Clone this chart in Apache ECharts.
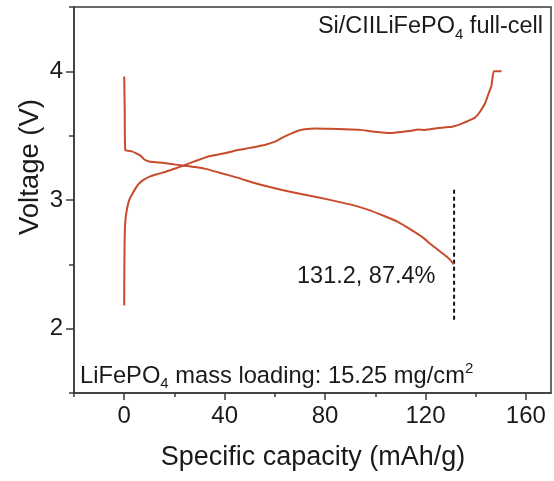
<!DOCTYPE html>
<html>
<head>
<meta charset="utf-8">
<script src="https://cdn.jsdelivr.net/npm/echarts@6/dist/echarts.min.js"></script>
<style>
html,body{margin:0;padding:0;background:#fff;}
#chart{width:554px;height:481px;}
</style>
</head>
<body>
<div id="chart"></div>
<script>
// Discharge curve (specific capacity, mAh/g -> voltage, V)
const dischargeCap = [0, 0.2, 0.4, 1.5, 3, 4.6, 6.5, 8, 9.9, 13.9, 18, 23.2, 28, 32.4, 38, 45.7, 54, 62.9, 72, 81, 90.7, 97, 104, 109, 114.5, 118.5, 122.5, 125.5, 127.8, 129.6, 131.2];
const dischargeV   = [3.96, 3.7, 3.39, 3.382, 3.378, 3.365, 3.345, 3.315, 3.30, 3.292, 3.282, 3.268, 3.256, 3.242, 3.212, 3.17, 3.12, 3.078, 3.04, 3.005, 2.962, 2.925, 2.872, 2.83, 2.766, 2.715, 2.65, 2.605, 2.57, 2.54, 2.5];

// Charge curve
const chargeCap = [0, 0.05, 0.15, 0.3, 0.7, 1.3, 2.2, 3.3, 4.5, 6, 8, 9.9, 13, 16.6, 20, 23.2, 28, 33.8, 40.4, 45.7, 50, 56.3, 60.3, 63, 66.9, 69.5, 72, 76, 82, 88, 94, 98, 102.6, 106.5, 110, 114.5, 117, 119.8, 124.5, 128, 131, 134, 137, 139.7, 141.5, 143.7, 145, 146.3, 147.3, 150.3];
const chargeV   = [2.18, 2.45, 2.65, 2.79, 2.88, 2.95, 3.01, 3.05, 3.09, 3.13, 3.16, 3.18, 3.2, 3.22, 3.243, 3.265, 3.3, 3.34, 3.365, 3.39, 3.405, 3.43, 3.456, 3.485, 3.52, 3.54, 3.55, 3.555, 3.553, 3.55, 3.545, 3.535, 3.525, 3.52, 3.528, 3.538, 3.548, 3.545, 3.558, 3.565, 3.572, 3.59, 3.615, 3.64, 3.68, 3.75, 3.82, 3.89, 4.0, 4.0];

// Dashed marker at end of discharge
const markerCap = [131.4, 131.4];
const markerV   = [2.07, 3.1];

// Axis ticks
const xMajorTicks = [0, 40, 80, 120, 160];
const xMinorTicks = [-20, 20, 60, 100, 140];
const yMajorTicks = [2, 3, 4];
const yMinorTicks = [1.5, 2.5, 3.5, 4.5];

const zip = (a, b) => a.map((v, i) => [v, b[i]]);

const FONT = '"Liberation Sans", Arial, sans-serif';
const TXT = '#1a1a1a';
const AX = '#3a3a3a';
const LINE = '#c84b2c';

const chart = echarts.init(document.getElementById('chart'), null, {renderer: 'canvas'});

const axisCommon = {
  type: 'value',
  splitLine: {show: false},
  axisLine: {onZero: false, lineStyle: {color: AX, width: 1.5}}
};

chart.setOption({
  animation: false,
  backgroundColor: '#fff',
  grid: {
    left: 74, right: 3, top: 7, bottom: 88,
    outerBoundsMode: 'none',
    show: true, borderColor: AX, borderWidth: 1.5, backgroundColor: 'transparent'
  },
  xAxis: [
    Object.assign({}, axisCommon, {
      min: -20, max: 170, position: 'bottom',
      axisTick: {show: true, customValues: xMajorTicks, length: 7, lineStyle: {color: AX, width: 1.5}},
      axisLabel: {customValues: xMajorTicks, fontSize: 24, color: TXT, fontFamily: FONT, margin: 11}
    }),
    Object.assign({}, axisCommon, {
      min: -20, max: 170, position: 'bottom',
      axisLine: {show: false, onZero: false},
      axisTick: {show: true, customValues: xMinorTicks, length: 4, lineStyle: {color: AX, width: 1.5}},
      axisLabel: {show: false}
    })
  ],
  yAxis: [
    Object.assign({}, axisCommon, {
      min: 1.5, max: 4.5, position: 'left',
      axisTick: {show: true, customValues: yMajorTicks, length: 8, lineStyle: {color: AX, width: 1.5}},
      axisLabel: {customValues: yMajorTicks, fontSize: 24, color: TXT, fontFamily: FONT, margin: 11}
    }),
    Object.assign({}, axisCommon, {
      min: 1.5, max: 4.5, position: 'left',
      axisLine: {show: false, onZero: false},
      axisTick: {show: true, customValues: yMinorTicks, length: 5, lineStyle: {color: AX, width: 1.5}},
      axisLabel: {show: false}
    })
  ],
  series: [
    {
      type: 'line', name: 'discharge', data: zip(dischargeCap, dischargeV),
      showSymbol: false, smooth: 0.2,
      lineStyle: {color: LINE, width: 2}, z: 3
    },
    {
      type: 'line', name: 'charge', data: zip(chargeCap, chargeV),
      showSymbol: false, smooth: 0.2,
      lineStyle: {color: LINE, width: 2}, z: 3
    },
    {
      type: 'line', name: 'marker', data: zip(markerCap, markerV),
      showSymbol: false,
      lineStyle: {color: '#111', width: 2, type: [4, 3]}, z: 2
    }
  ],
  graphic: [
    {
      type: 'text', x: 30, y: 167, rotation: Math.PI / 2,
      style: {text: 'Voltage (V)', font: '27.5px ' + FONT, fill: TXT, align: 'center', verticalAlign: 'middle'}
    },
    {
      type: 'text', x: 313, y: 458,
      style: {text: 'Specific capacity (mAh/g)', font: '27px ' + FONT, fill: TXT, align: 'center', verticalAlign: 'middle'}
    },
    {
      type: 'text', x: 543, y: 27,
      style: {
        text: '{n|Si/CIILiFePO}{sub|4}{n| full-cell}',
        align: 'right', verticalAlign: 'middle', fill: TXT,
        rich: {
          n: {fontSize: 23.5, fontFamily: FONT, lineHeight: 30, fill: TXT, color: TXT},
          sub: {fontSize: 15, fontFamily: FONT, lineHeight: 16, verticalAlign: 'bottom', fill: TXT, color: TXT}
        }
      }
    },
    {
      type: 'text', x: 80, y: 376,
      style: {
        text: '{n|LiFePO}{sub|4}{n| mass loading: 15.25 mg/cm}{sup|2}',
        align: 'left', verticalAlign: 'middle', fill: TXT,
        rich: {
          n: {fontSize: 23.7, fontFamily: FONT, lineHeight: 30, fill: TXT, color: TXT},
          sub: {fontSize: 15, fontFamily: FONT, lineHeight: 16, verticalAlign: 'bottom', fill: TXT, color: TXT},
          sup: {fontSize: 15, fontFamily: FONT, lineHeight: 18, verticalAlign: 'top', fill: TXT, color: TXT}
        }
      }
    },
    {
      type: 'text', x: 297, y: 277,
      style: {text: '131.2, 87.4%', font: '23.5px ' + FONT, fill: TXT, align: 'left', verticalAlign: 'middle'}
    }
  ]
});
</script>
</body>
</html>
